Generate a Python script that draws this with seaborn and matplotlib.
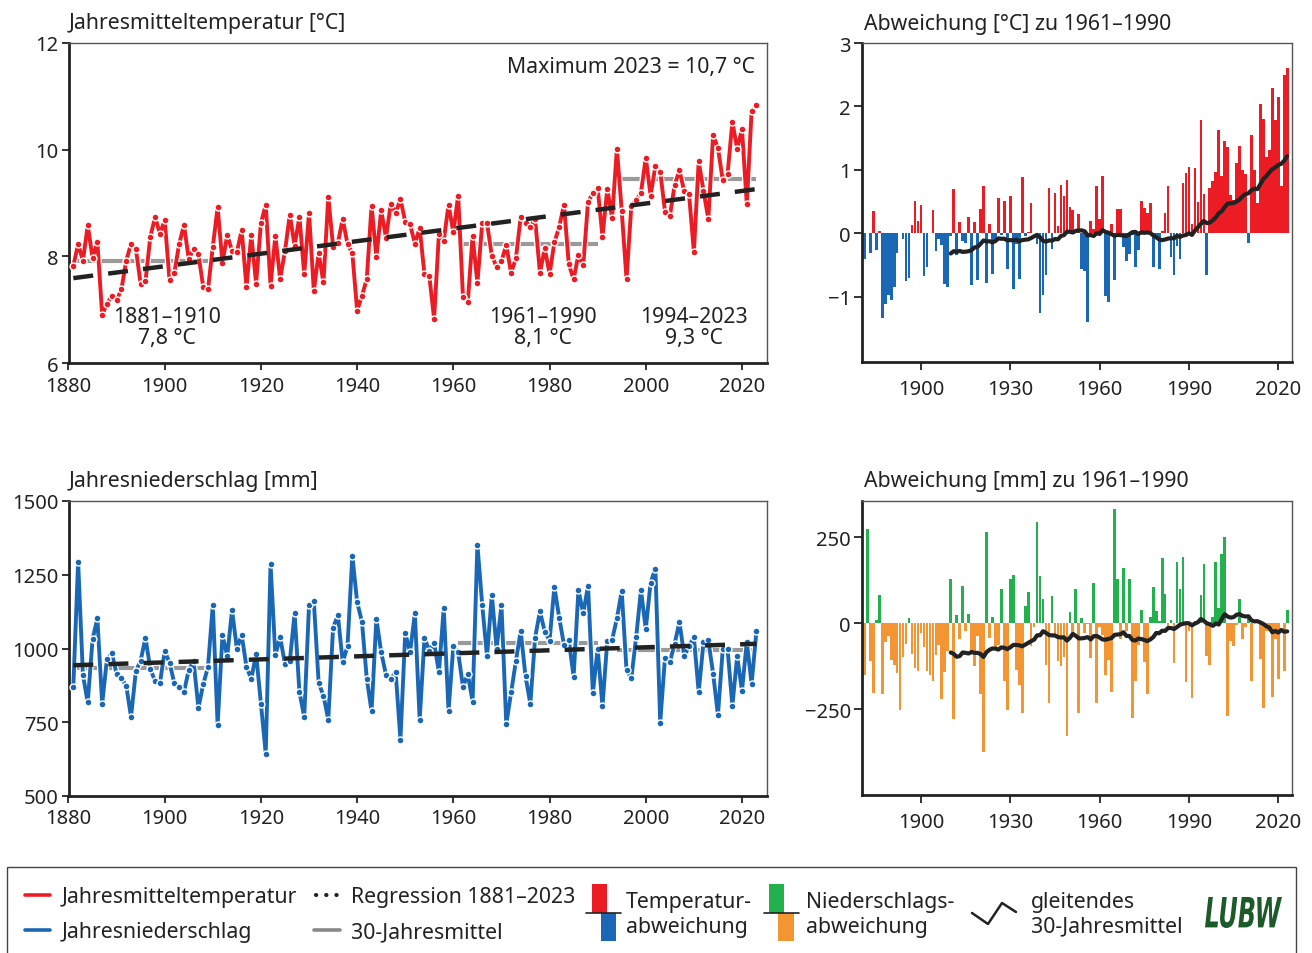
import numpy as np
import pandas as pd
import seaborn as sns
import matplotlib.pyplot as plt
from matplotlib.patches import Rectangle, PathPatch
from matplotlib.textpath import TextPath
from matplotlib.font_manager import FontProperties
from matplotlib.transforms import Affine2D

# Jahreswerte Baden-Württemberg 1881-2023
years = list(range(1881, 2024))

temperature = [
    7.82, 8.23, 7.92, 8.58, 7.97, 8.27, 6.90, 7.11, 7.26, 7.18,   # 1881-1890
    7.38, 7.92, 8.23, 8.14, 7.48, 7.53, 8.36, 8.74, 8.42, 8.68,   # 1891-1900
    7.56, 7.69, 8.23, 8.59, 7.95, 8.14, 8.04, 7.43, 7.38, 8.18,   # 1901-1910
    8.92, 7.88, 8.40, 8.10, 8.08, 8.49, 7.42, 8.40, 7.49, 8.62,   # 1911-1920
    8.97, 7.45, 8.38, 7.58, 8.10, 8.78, 8.20, 8.74, 7.67, 8.81,   # 1921-1930
    7.35, 8.06, 7.51, 9.12, 8.18, 8.25, 8.70, 8.23, 8.06, 6.98,   # 1931-1940
    7.26, 7.57, 8.95, 7.98, 8.86, 8.35, 8.99, 8.81, 9.07, 8.65,   # 1941-1950
    8.60, 8.24, 8.53, 7.66, 7.63, 6.83, 8.42, 8.29, 8.97, 8.45,   # 1951-1960
    9.14, 7.24, 7.14, 8.38, 7.50, 8.62, 8.62, 8.01, 7.80, 7.91,   # 1961-1970
    8.21, 7.69, 7.96, 8.74, 8.63, 8.55, 8.70, 7.69, 8.15, 7.67,   # 1971-1980
    8.26, 8.55, 8.97, 7.85, 7.57, 8.03, 7.83, 9.02, 9.18, 9.28,   # 1981-1990
    8.37, 9.26, 8.72, 10.02, 8.85, 7.57, 8.95, 9.06, 9.19, 9.85,  # 1991-2000
    9.14, 9.69, 9.59, 8.84, 8.75, 9.34, 9.61, 9.22, 9.16, 8.08,   # 2001-2010
    9.78, 9.23, 8.70, 10.27, 10.03, 9.43, 9.54, 10.52, 10.02, 10.38,  # 2011-2020
    8.98, 10.72, 10.83,                                           # 2021-2023
]

precipitation = [
    870, 1294, 910, 817, 1031, 1102, 813, 965, 984, 914,     # 1881-1890
    899, 874, 768, 923, 959, 1036, 932, 889, 882, 991,       # 1891-1900
    952, 882, 869, 852, 928, 957, 799, 878, 938, 1148,       # 1901-1910
    740, 1045, 975, 1130, 999, 1046, 937, 897, 982, 813,     # 1911-1920
    644, 1286, 978, 1038, 947, 956, 1119, 853, 768, 1148,    # 1921-1930
    1160, 883, 840, 759, 1071, 1112, 954, 1008, 1315, 1157,  # 1931-1940
    1091, 898, 787, 1101, 987, 911, 895, 922, 691, 1053,     # 1941-1950
    987, 1119, 758, 1036, 993, 1018, 920, 1136, 789, 1009,   # 1951-1960
    987, 870, 913, 820, 1352, 1148, 973, 1182, 999, 1148,    # 1961-1970
    743, 851, 957, 1059, 906, 813, 1037, 1126, 1057, 1027,   # 1971-1980
    1209, 1105, 1012, 1029, 904, 1198, 1119, 1213, 849, 999, # 1981-1990
    804, 1027, 1029, 1102, 1194, 926, 899, 1038, 1198, 1066, # 1991-2000
    1223, 1271, 749, 969, 954, 1016, 1090, 974, 1008, 1038,  # 2001-2010
    852, 1021, 1028, 915, 774, 997, 999, 806, 973, 857,      # 2011-2020
    1022, 880, 1058,                                         # 2021-2023
]

mean_periods = [(1881, 1910), (1961, 1990), (1994, 2023)]
mean_labels = ["1881–1910\n7,8 °C", "1961–1990\n8,1 °C", "1994–2023\n9,3 °C"]
ref_period = (1961, 1990)

RED = "#ec1c24"
BLUE = "#1a67b5"
GREEN = "#22b14c"
ORANGE = "#f39533"
GREY = "#9a9a9a"
DARK = "#222222"

sns.set_theme(style="ticks")
plt.rcParams["font.family"] = ["Noto Sans", "DejaVu Sans"]
plt.rcParams["text.color"] = DARK
plt.rcParams["axes.unicode_minus"] = True
FS = 15.3      # Titel / Legende
TFS = 14.5     # Achsenbeschriftung

df = pd.DataFrame({"Jahr": years, "Temperatur": temperature,
                   "Niederschlag": precipitation})
ref = df[df["Jahr"].between(*ref_period)]
df["dT"] = df["Temperatur"] - ref["Temperatur"].mean()
df["dN"] = df["Niederschlag"] - ref["Niederschlag"].mean()
df["dT_30"] = df["dT"].rolling(30).mean()
df["dN_30"] = df["dN"].rolling(30).mean()

fig = plt.figure(figsize=(13.12, 9.54), dpi=100)
W, H = 1312, 954


def add_ax(left, top, right, bottom):
    return fig.add_axes([left / W, 1 - bottom / H, (right - left) / W, (bottom - top) / H])


def style_axes(ax, xpad=4, ticklen=5):
    for s in ["left", "bottom"]:
        ax.spines[s].set_linewidth(2.0)
        ax.spines[s].set_color(DARK)
    for s in ["top", "right"]:
        ax.spines[s].set_visible(True)
        ax.spines[s].set_linewidth(1.0)
        ax.spines[s].set_color("#555555")
    ax.tick_params(direction="out", length=ticklen, width=1.3, color=DARK,
                   labelsize=TFS, labelcolor=DARK, pad=2,
                   top=False, right=False)
    ax.tick_params(axis="x", pad=xpad)
    ax.set_xlabel("")
    ax.set_ylabel("")


def line_panel(ax, col, color):
    for a, b in mean_periods:
        m = df.loc[df["Jahr"].between(a, b), col].mean()
        ax.plot([a, b], [m, m], color=GREY, lw=3.0, solid_capstyle="butt", zorder=1)
    # white halo under the series
    ax.plot(df["Jahr"], df[col], color="white", lw=4.6, zorder=2)
    sns.lineplot(data=df, x="Jahr", y=col, color=color, lw=2.8, marker="o",
                 markersize=5.0, markerfacecolor=color, markeredgecolor="white",
                 markeredgewidth=1.0, ax=ax, zorder=3)
    slope, icpt = np.polyfit(df["Jahr"], df[col], 1)
    fit = icpt + slope * df["Jahr"]
    sns.lineplot(x=df["Jahr"], y=fit, color=DARK, lw=3.2,
                 linestyle=(0, (4.5, 3.4)), ax=ax, zorder=4)


def bar_panel(ax, col, pos, neg):
    colors = np.where(df[col] >= 0, pos, neg)
    ax.bar(df["Jahr"], df[col], width=0.9, color=colors, linewidth=0, zorder=1)
    sub = df.dropna(subset=[col + "_30"])
    sns.lineplot(data=sub, x="Jahr", y=col + "_30", color=DARK, lw=3.0, ax=ax, zorder=2)


# --- Temperatur ---
ax1 = add_ax(68.5, 44, 767, 364)
line_panel(ax1, "Temperatur", RED)
ax1.set_xlim(1880, 2025.2)
ax1.set_ylim(6, 12)
ax1.set_yticks([6, 8, 10, 12])
ax1.set_xticks(range(1880, 2021, 20))
style_axes(ax1, xpad=4)
ax1.text(0, 1 + 20 / 320, "Jahresmitteltemperatur [°C]", transform=ax1.transAxes,
         fontsize=FS, va="center", ha="left")
ax1.text(0.983, 0.925, "Maximum 2023 = 10,7 °C", transform=ax1.transAxes,
         fontsize=FS, va="center", ha="right")
for lab, x in zip(mean_labels, [1900.5, 1978.6, 2010.0]):
    ax1.text(x, 6.68, lab, fontsize=FS, ha="center", va="center", linespacing=1.0)

# --- Temperaturabweichung ---
ax2 = add_ax(862, 44, 1292, 363)
bar_panel(ax2, "dT", RED, BLUE)
ax2.set_xlim(1880.2, 2024.6)
ax2.set_ylim(-2.03, 3.0)
ax2.set_yticks([-1, 0, 1, 2, 3])
ax2.set_xticks(range(1900, 2021, 30))
style_axes(ax2, xpad=6, ticklen=6)
ax2.text(0.005, 1 + 20 / 319, "Abweichung [°C] zu 1961–1990", transform=ax2.transAxes,
         fontsize=FS, va="center", ha="left")

# --- Niederschlag ---
ax3 = add_ax(68.5, 502, 767, 797)
line_panel(ax3, "Niederschlag", BLUE)
ax3.set_xlim(1880, 2025.2)
ax3.set_ylim(500, 1500)
ax3.set_yticks([500, 750, 1000, 1250, 1500])
ax3.set_xticks(range(1880, 2021, 20))
style_axes(ax3, xpad=4)
ax3.text(0, 1 + 20 / 295, "Jahresniederschlag [mm]", transform=ax3.transAxes,
         fontsize=FS, va="center", ha="left")

# --- Niederschlagsabweichung ---
ax4 = add_ax(862, 502, 1292, 796)
bar_panel(ax4, "dN", GREEN, ORANGE)
ax4.set_xlim(1880.2, 2024.6)
ax4.set_ylim(-500, 356)
ax4.set_yticks([-250, 0, 250])
ax4.set_xticks(range(1900, 2021, 30))
style_axes(ax4, xpad=6, ticklen=6)
ax4.text(0.005, 1 + 20 / 294, "Abweichung [mm] zu 1961–1990", transform=ax4.transAxes,
         fontsize=FS, va="center", ha="left")

# --- Legende (Pixelraster) ---
lg = fig.add_axes([0, 0, 1, 1])
lg.set_xlim(0, W)
lg.set_ylim(H, 0)
lg.axis("off")
lg.add_patch(Rectangle((7, 868), 1289, 120, fill=False, edgecolor="#444444", lw=1.0))

lg.plot([25, 50], [896, 896], color=RED, lw=2.6, solid_capstyle="round")
lg.text(62, 898, "Jahresmitteltemperatur", fontsize=FS, va="center")
lg.plot([25, 50], [931, 931], color=BLUE, lw=2.6, solid_capstyle="round")
lg.text(62, 933, "Jahresniederschlag", fontsize=FS, va="center")
lg.plot([316, 338], [896, 896], color=DARK, lw=3.0, linestyle=(0, (0.05, 2.4)),
        dash_capstyle="round")
lg.text(351, 898, "Regression 1881–2023", fontsize=FS, va="center")
lg.plot([314, 340], [931, 931], color="#888888", lw=2.6, solid_capstyle="round")
lg.text(351, 933, "30-Jahresmittel", fontsize=FS, va="center")

lg.add_patch(Rectangle((592, 885), 15, 29, color=RED, lw=0))
lg.add_patch(Rectangle((601, 914), 15, 28, color=BLUE, lw=0))
lg.plot([586, 621], [914, 914], color=DARK, lw=1.2)
lg.text(626, 915, "Temperatur-\nabweichung", fontsize=FS, va="center", linespacing=1.2)

lg.add_patch(Rectangle((769, 885), 15, 29, color=GREEN, lw=0))
lg.add_patch(Rectangle((778, 914), 16, 28, color=ORANGE, lw=0))
lg.plot([764, 799], [914, 914], color=DARK, lw=1.2)
lg.text(806, 915, "Niederschlags-\nabweichung", fontsize=FS, va="center", linespacing=1.2)

lg.plot([972, 988, 1002, 1016], [914, 925, 904, 913], color=DARK, lw=1.8)
lg.text(1031, 915, "gleitendes\n30-Jahresmittel", fontsize=FS, va="center", linespacing=1.2)

# LUBW-Logo als schmaler, kursiver Schriftzug
tp = TextPath((0, 0), "LUBW", size=40,
              prop=FontProperties(family="DejaVu Sans", weight="bold", style="italic"))
ext = tp.get_extents()
sx = 77 / ext.width
sy = 31 / ext.height
logo_tr = (Affine2D().translate(-ext.x0, -ext.y0).scale(sx, -sy).translate(1205, 929)
           + lg.transData)
lg.add_patch(PathPatch(tp, transform=logo_tr, facecolor="#1d5a2a", edgecolor="none"))

fig.savefig("out.png", dpi=100)
